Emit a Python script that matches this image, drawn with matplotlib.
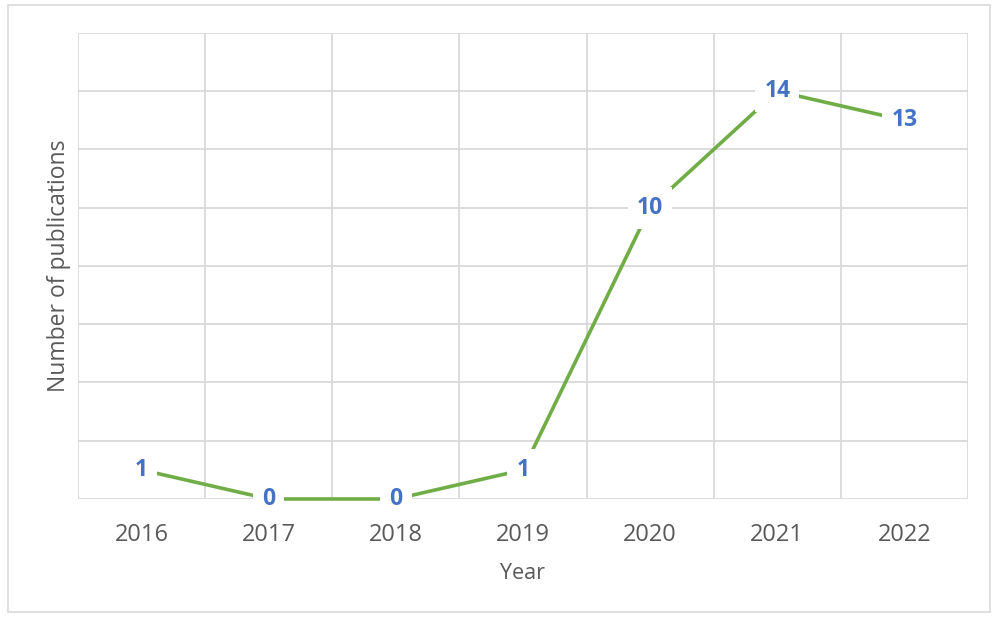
import numpy as np
import matplotlib.pyplot as plt
from matplotlib.patches import Rectangle

# Datos del gráfico
years = ["2016", "2017", "2018", "2019", "2020", "2021", "2022"]
publications = [1, 0, 0, 1, 10, 14, 13]

plt.rcParams['font.family'] = ['Open Sans', 'DejaVu Sans']

grid_col = "#D9D9D9"
line_col = "#70AD47"
label_col = "#4472C4"
text_col = "#595959"

fig, ax = plt.subplots(
    figsize     = (9.94, 6.2),
    dpi         = 100,
    gridspec_kw = {'left': 0.0785, 'right': 0.9738, 'top': 0.9468, 'bottom': 0.1952},
    facecolor   = 'w')

# Borde exterior del gráfico
fig.patches.append(Rectangle((8 / 994, 1 - 612 / 620), 982 / 994, 607 / 620,
                             transform=fig.transFigure, fill=False,
                             edgecolor=grid_col, lw=1.2))

x = np.arange(len(years))
ax.plot(x, publications, ls="-", lw=2.6, c=line_col, zorder=3, clip_on=False,
        solid_capstyle="butt")

# Etiquetas de datos
for xi, yi in zip(x, publications):
    ax.text(xi, yi, str(yi), ha="center", va="center", fontsize=16.5, fontweight="bold",
            color=label_col, zorder=4,
            bbox=dict(boxstyle="square,pad=0.4", fc="w", ec="none"))

ax.set_xlim(-0.5, len(years) - 0.5)
ax.set_ylim(0, 16)
ax.set_xticks(x)
ax.set_xticklabels(years, fontsize=17, color=text_col)
ax.set_xticks(np.arange(-0.5, len(years)), minor=True)
ax.set_yticks(np.arange(0, 17, 2))
ax.set_yticklabels([])

ax.grid(True, which="minor", axis="x", color=grid_col, lw=1.3)
ax.grid(True, which="major", axis="y", color=grid_col, lw=1.3)
ax.set_axisbelow(True)
ax.tick_params(axis="x", which="both", length=0, pad=17)
ax.tick_params(axis="y", which="both", length=0, pad=0)

for s in ax.spines.values():
    s.set_visible(False)

ax.set_xlabel("Year", fontsize=15.5, color=text_col, labelpad=12)
ax.set_ylabel("Number of publications", fontsize=16.5, color=text_col, labelpad=5)

fig.savefig("out.png", dpi=100, facecolor='w')
plt.close(fig)
